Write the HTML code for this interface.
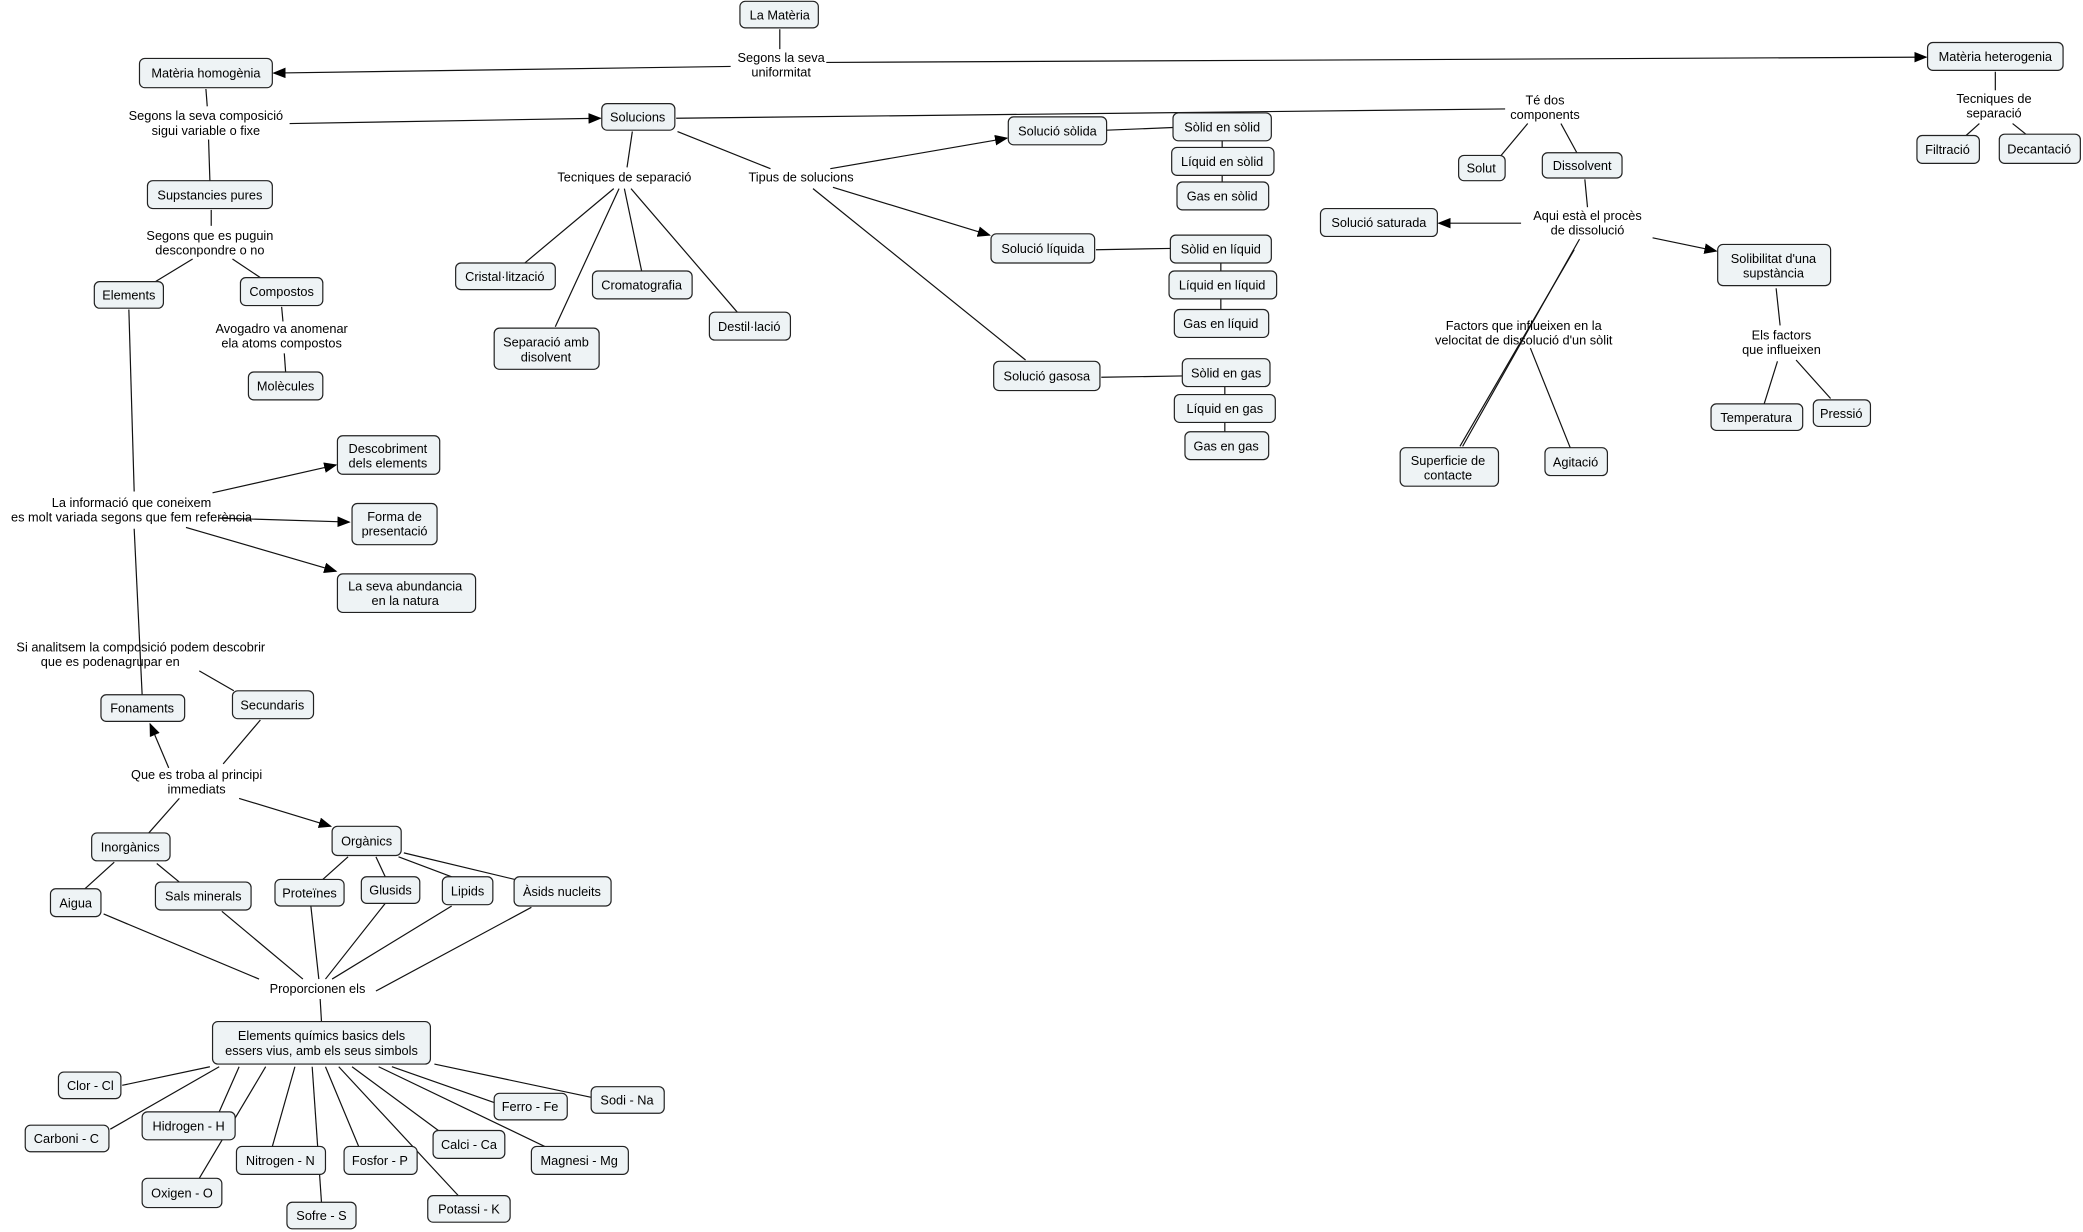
<!DOCTYPE html>
<html><head><meta charset="utf-8"><style>
html,body{margin:0;padding:0;background:#fff;}
svg{display:block}
text{font-family:"Liberation Sans","DejaVu Sans",sans-serif;font-size:9.6px;fill:#000;text-anchor:middle}
rect{fill:#eef3f5;stroke:#222;stroke-width:0.9}
line{stroke:#111;stroke-width:0.9}
</style></head><body>
<svg width="2083" height="1232" viewBox="0 0 1568 927.4" xmlns="http://www.w3.org/2000/svg">
<defs><marker id="a" markerWidth="10" markerHeight="8" refX="9" refY="4" orient="auto" markerUnits="userSpaceOnUse"><path d="M0,0 L10,4 L0,8 z" fill="#000"/></marker></defs>
<g>
<line x1="587" y1="22" x2="587" y2="37"/>
<line x1="550" y1="50" x2="206" y2="55" marker-end="url(#a)"/>
<line x1="622" y1="47" x2="1450" y2="43" marker-end="url(#a)"/>
<line x1="1502" y1="54" x2="1502" y2="68"/>
<line x1="1490" y1="93" x2="1480" y2="102"/><line x1="1515" y1="93" x2="1525" y2="101"/>
<line x1="155" y1="67" x2="156" y2="80"/>
<line x1="218" y1="93" x2="452" y2="89" marker-end="url(#a)"/>
<line x1="157" y1="105" x2="158" y2="136"/>
<line x1="159" y1="158" x2="159" y2="170"/>
<line x1="145" y1="195" x2="117" y2="212"/><line x1="175" y1="195" x2="196" y2="209"/>
<line x1="212" y1="231" x2="213" y2="242"/><line x1="214" y1="266" x2="215" y2="280"/>
<line x1="509" y1="89" x2="1133" y2="82"/>
<line x1="476" y1="99" x2="472" y2="126"/>
<line x1="510" y1="99" x2="580" y2="127"/>
<line x1="462" y1="142" x2="395" y2="198"/><line x1="466" y1="142" x2="418" y2="246"/>
<line x1="470" y1="142" x2="483" y2="204"/><line x1="475" y1="142" x2="555" y2="235"/>
<line x1="625" y1="127" x2="758" y2="104" marker-end="url(#a)"/>
<line x1="627" y1="141" x2="745" y2="177" marker-end="url(#a)"/>
<line x1="612" y1="142" x2="772" y2="271"/>
<line x1="833" y1="98" x2="883" y2="96"/><line x1="825" y1="188" x2="881" y2="187"/><line x1="829" y1="284" x2="890" y2="283"/>
<line x1="920" y1="106" x2="920" y2="111"/><line x1="920" y1="132" x2="920" y2="137"/>
<line x1="919" y1="198" x2="919" y2="204"/><line x1="919" y1="225" x2="919" y2="233"/>
<line x1="922" y1="291" x2="922" y2="297"/><line x1="922" y1="318" x2="922" y2="325"/>
<line x1="1150" y1="93" x2="1130" y2="117"/><line x1="1175" y1="93" x2="1187" y2="115"/>
<line x1="1193" y1="135" x2="1195" y2="156"/>
<line x1="1145" y1="168" x2="1083" y2="168" marker-end="url(#a)"/>
<line x1="1244" y1="179" x2="1292" y2="189" marker-end="url(#a)"/>
<line x1="1189" y1="180" x2="1101" y2="336"/><line x1="1185" y1="188" x2="1099" y2="336"/>
<line x1="1152" y1="262" x2="1182" y2="337"/>
<line x1="1337" y1="217" x2="1340" y2="245"/><line x1="1338" y1="272" x2="1328" y2="304"/><line x1="1352" y1="271" x2="1378" y2="300"/>
<line x1="97" y1="233" x2="101" y2="370"/><line x1="101" y1="398" x2="107" y2="523"/>
<line x1="160" y1="371" x2="253" y2="350" marker-end="url(#a)"/>
<line x1="165" y1="390" x2="263" y2="393" marker-end="url(#a)"/>
<line x1="140" y1="397" x2="253" y2="430" marker-end="url(#a)"/>
<line x1="150" y1="505" x2="176" y2="520"/>
<line x1="127" y1="578" x2="113" y2="545" marker-end="url(#a)"/>
<line x1="168" y1="575" x2="196" y2="542"/>
<line x1="135" y1="601" x2="112" y2="627"/>
<line x1="180" y1="601" x2="249" y2="622" marker-end="url(#a)"/>
<line x1="86" y1="649" x2="64" y2="669"/><line x1="118" y1="650" x2="135" y2="664"/>
<line x1="262" y1="645" x2="243" y2="662"/><line x1="283" y1="645" x2="290" y2="660"/>
<line x1="300" y1="645" x2="340" y2="660"/><line x1="304" y1="642" x2="400" y2="665"/>
<line x1="78" y1="688" x2="195" y2="737"/><line x1="167" y1="686" x2="228" y2="737"/>
<line x1="234" y1="682" x2="240" y2="737"/><line x1="290" y1="680" x2="245" y2="737"/>
<line x1="340" y1="682" x2="250" y2="737"/><line x1="400" y1="683" x2="283" y2="746"/>
<line x1="241" y1="752" x2="242" y2="769"/>
<line x1="158" y1="803" x2="92" y2="817"/><line x1="165" y1="803" x2="83" y2="850"/>
<line x1="180" y1="803" x2="165" y2="837"/><line x1="200" y1="803" x2="150" y2="887"/>
<line x1="222" y1="803" x2="205" y2="863"/><line x1="235" y1="803" x2="242" y2="905"/>
<line x1="245" y1="803" x2="270" y2="863"/><line x1="255" y1="803" x2="345" y2="900"/>
<line x1="265" y1="803" x2="330" y2="851"/><line x1="285" y1="803" x2="410" y2="863"/>
<line x1="295" y1="803" x2="372" y2="830"/><line x1="327" y1="801" x2="445" y2="826"/>
</g>
<g>
<rect x="557" y="1" width="59" height="20" rx="4"/><text x="587" y="14.5">La Matèria</text>
<rect x="105" y="44" width="100" height="22" rx="4"/><text x="155" y="58.5">Matèria homogènia</text>
<rect x="1451" y="32" width="102" height="21" rx="4"/><text x="1502" y="46">Matèria heterogenia</text>
<rect x="1443" y="102" width="47" height="21" rx="4"/><text x="1466" y="116">Filtració</text>
<rect x="1505" y="101" width="61" height="22" rx="4"/><text x="1535" y="115.5">Decantació</text>
<rect x="453" y="78" width="55" height="20" rx="4"/><text x="480" y="91.5">Solucions</text>
<rect x="111" y="136" width="94" height="21" rx="4"/><text x="158" y="150">Supstancies pures</text>
<rect x="71" y="212" width="52" height="20" rx="4"/><text x="97" y="225.5">Elements</text>
<rect x="181" y="209" width="62" height="21" rx="4"/><text x="212" y="223">Compostos</text>
<rect x="187" y="280" width="56" height="21" rx="4"/><text x="215" y="294">Molècules</text>
<rect x="343" y="198" width="75" height="20" rx="4"/><text x="380" y="211.5">Cristal·lització</text>
<rect x="446" y="204" width="75" height="21" rx="4"/><text x="483" y="218">Cromatografia</text>
<rect x="534" y="235" width="61" height="21" rx="4"/><text x="564" y="249">Destil·lació</text>
<rect x="372" y="247" width="79" height="31" rx="4"/><text x="411" y="261">Separació amb</text><text x="411" y="272">disolvent</text>
<rect x="759" y="88" width="74" height="21" rx="4"/><text x="796" y="102">Solució sòlida</text>
<rect x="746" y="176" width="78" height="22" rx="4"/><text x="785" y="190.5">Solució líquida</text>
<rect x="748" y="272" width="80" height="22" rx="4"/><text x="788" y="286.5">Solució gasosa</text>
<rect x="883" y="85" width="74" height="21" rx="4"/><text x="920" y="99">Sòlid en sòlid</text>
<rect x="882" y="111" width="77" height="21" rx="4"/><text x="920" y="125">Líquid en sòlid</text>
<rect x="886" y="137" width="69" height="21" rx="4"/><text x="920" y="151">Gas en sòlid</text>
<rect x="881" y="177" width="76" height="21" rx="4"/><text x="919" y="191">Sòlid en líquid</text>
<rect x="880" y="204" width="81" height="21" rx="4"/><text x="920" y="218">Líquid en líquid</text>
<rect x="884" y="233" width="71" height="21" rx="4"/><text x="919" y="247">Gas en líquid</text>
<rect x="890" y="270" width="66" height="21" rx="4"/><text x="923" y="284">Sòlid en gas</text>
<rect x="884" y="297" width="76" height="21" rx="4"/><text x="922" y="311">Líquid en gas</text>
<rect x="892" y="325" width="63" height="21" rx="4"/><text x="923" y="339">Gas en gas</text>
<rect x="1098" y="117" width="35" height="19" rx="4"/><text x="1115" y="130">Solut</text>
<rect x="1161" y="115" width="60" height="19" rx="4"/><text x="1191" y="128">Dissolvent</text>
<rect x="994" y="157" width="88" height="21" rx="4"/><text x="1038" y="171">Solució saturada</text>
<rect x="1293" y="184" width="85" height="31" rx="4"/><text x="1335" y="198">Solibilitat d'una</text><text x="1335" y="209">supstància</text>
<rect x="1288" y="304" width="69" height="20" rx="4"/><text x="1322" y="317.5">Temperatura</text>
<rect x="1365" y="301" width="43" height="20" rx="4"/><text x="1386" y="314.5">Pressió</text>
<rect x="1054" y="337" width="74" height="29" rx="4"/><text x="1090" y="350">Superficie de</text><text x="1090" y="361">contacte</text>
<rect x="1163" y="337" width="47" height="21" rx="4"/><text x="1186" y="351">Agitació</text>
<rect x="254" y="328" width="77" height="29" rx="4"/><text x="292" y="341">Descobriment</text><text x="292" y="352">dels elements</text>
<rect x="265" y="379" width="64" height="31" rx="4"/><text x="297" y="392">Forma de</text><text x="297" y="403">presentació</text>
<rect x="254" y="432" width="104" height="29" rx="4"/><text x="305" y="444.5">La seva abundancia</text><text x="305" y="455.5">en la natura</text>
<rect x="76" y="523" width="63" height="20" rx="4"/><text x="107" y="536.5">Fonaments</text>
<rect x="175" y="520" width="61" height="21" rx="4"/><text x="205" y="534">Secundaris</text>
<rect x="69" y="627" width="59" height="21" rx="4"/><text x="98" y="641">Inorgànics</text>
<rect x="250" y="622" width="52" height="22" rx="4"/><text x="276" y="636.5">Orgànics</text>
<rect x="38" y="669" width="38" height="21" rx="4"/><text x="57" y="683">Aigua</text>
<rect x="117" y="664" width="72" height="21" rx="4"/><text x="153" y="678">Sals minerals</text>
<rect x="207" y="662" width="52" height="20" rx="4"/><text x="233" y="675.5">Proteïnes</text>
<rect x="272" y="660" width="44" height="20" rx="4"/><text x="294" y="673.5">Glusids</text>
<rect x="333" y="660" width="38" height="21" rx="4"/><text x="352" y="674">Lipids</text>
<rect x="387" y="660" width="73" height="22" rx="4"/><text x="423" y="674.5">Àsids nucleits</text>
<rect x="160" y="769" width="164" height="32" rx="4"/><text x="242" y="783">Elements químics basics dels</text><text x="242" y="794">essers vius, amb els seus simbols</text>
<rect x="44" y="807" width="47" height="20" rx="4"/><text x="68" y="820.5">Clor - Cl</text>
<rect x="19" y="847" width="63" height="20" rx="4"/><text x="50" y="860.5">Carboni - C</text>
<rect x="107" y="837" width="70" height="21" rx="4"/><text x="142" y="851">Hidrogen - H</text>
<rect x="107" y="887" width="60" height="22" rx="4"/><text x="137" y="901.5">Oxigen - O</text>
<rect x="178" y="863" width="67" height="21" rx="4"/><text x="211" y="877">Nitrogen - N</text>
<rect x="216" y="905" width="52" height="20" rx="4"/><text x="242" y="918.5">Sofre - S</text>
<rect x="259" y="863" width="55" height="21" rx="4"/><text x="286" y="877">Fosfor - P</text>
<rect x="322" y="900" width="62" height="20" rx="4"/><text x="353" y="913.5">Potassi - K</text>
<rect x="326" y="851" width="54" height="21" rx="4"/><text x="353" y="865">Calci - Ca</text>
<rect x="400" y="863" width="73" height="21" rx="4"/><text x="436" y="877">Magnesi - Mg</text>
<rect x="372" y="823" width="55" height="20" rx="4"/><text x="399" y="836.5">Ferro - Fe</text>
<rect x="445" y="818" width="55" height="20" rx="4"/><text x="472" y="831.5">Sodi - Na</text>
</g>
<g>
<text x="588" y="46.5">Segons la seva</text><text x="588" y="57.5">uniformitat</text>
<text x="1501" y="77.5">Tecniques de</text><text x="1501" y="88.5">separació</text>
<text x="155" y="90.5">Segons la seva composició</text><text x="155" y="101.5">sigui variable o fixe</text>
<text x="158" y="180.5">Segons que es puguin</text><text x="158" y="191.5">desconpondre o no</text>
<text x="212" y="250.5">Avogadro va anomenar</text><text x="212" y="261.5">ela atoms compostos</text>
<text x="470" y="136.5">Tecniques de separació</text>
<text x="603" y="136.5">Tipus de solucions</text>
<text x="1163" y="78.5">Té dos</text><text x="1163" y="89.5">components</text>
<text x="1195" y="165.5">Aqui està el procès</text><text x="1195" y="176.5">de dissolució</text>
<text x="1341" y="255.5">Els factors</text><text x="1341" y="266.5">que influeixen</text>
<text x="1147" y="248.5">Factors que influeixen en la</text><text x="1147" y="259.5">velocitat de dissolució d'un sòlit</text>
<text x="99" y="381.5">La informació que coneixem</text><text x="99" y="392.5">es molt variada segons que fem referència</text>
<text x="106" y="490.5">Si analitsem la composició podem descobrir</text><text x="83" y="501.5">que es podenagrupar en</text>
<text x="148" y="586.5">Que es troba al principi</text><text x="148" y="597.5">immediats</text>
<text x="239" y="747.5">Proporcionen els</text>
</g>
</svg>
</body></html>
